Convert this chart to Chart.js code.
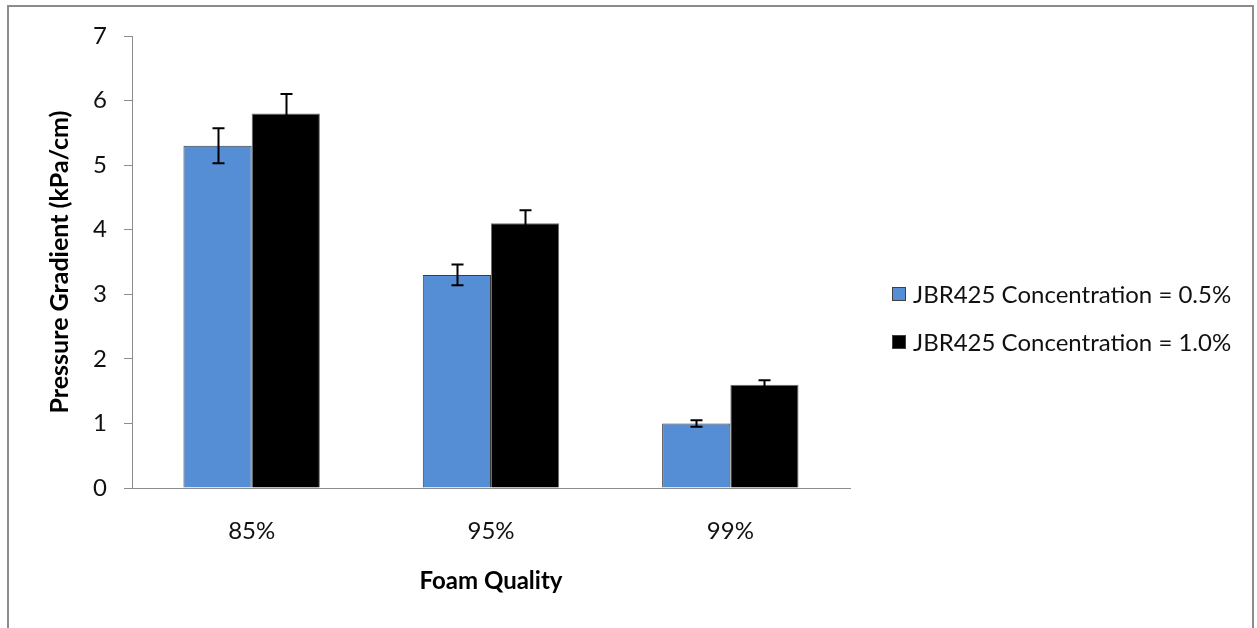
<!DOCTYPE html>
<html>
<head>
<meta charset="utf-8">
<script src="https://cdn.jsdelivr.net/npm/chart.js@4/dist/chart.umd.min.js"></script>
<style>
  html, body { margin: 0; padding: 0; background: #fff; }
  #wrap { position: relative; width: 1257px; height: 628px; overflow: hidden; }
  #frame { position: absolute; left: 7px; top: 5px; width: 1247px; height: 640px; border: 2px solid #8c8c8c; box-sizing: border-box; pointer-events: none; }
  canvas { position: absolute; left: 0; top: 0; }
</style>
</head>
<body>
<div id="wrap">
  <canvas id="c" width="1257" height="628"></canvas>
  <div id="frame"></div>
</div>
<script>
const categories = ['85%', '95%', '99%'];
const seriesLabels = ['JBR425 Concentration = 0.5%', 'JBR425 Concentration = 1.0%'];
const values05 = [5.30, 3.30, 1.00];
const values10 = [5.80, 4.10, 1.60];
const errors05 = [0.27, 0.16, 0.05];
const errors10 = [0.30, 0.20, 0.07];
const yTicks = [0, 1, 2, 3, 4, 5, 6, 7];

const FONT = 'Lato, "Open Sans", sans-serif';

const errorBarPlugin = {
  id: 'errorBars',
  afterDatasetsDraw(chart) {
    const ctx = chart.ctx;
    const yScale = chart.scales.y;
    chart.data.datasets.forEach((ds, di) => {
      const meta = chart.getDatasetMeta(di);
      meta.data.forEach((bar, i) => {
        const v = ds.data[i], e = ds.errors[i];
        const yt = yScale.getPixelForValue(v + e);
        const yb = yScale.getPixelForValue(v - e);
        const x = Math.round(bar.x) + 0.5;
        ctx.save();
        ctx.strokeStyle = '#000';
        ctx.lineWidth = 2;
        ctx.beginPath();
        ctx.moveTo(x, yt); ctx.lineTo(x, yb);
        ctx.moveTo(x - 6, yt); ctx.lineTo(x + 6, yt);
        ctx.moveTo(x - 6, yb); ctx.lineTo(x + 6, yb);
        ctx.stroke();
        ctx.restore();
      });
    });
  }
};

const legendPlugin = {
  id: 'sideLegend',
  afterDraw(chart) {
    const ctx = chart.ctx;
    const area = chart.chartArea;
    const x0 = area.right + 42;
    const cy = area.bottom - 170;
    const gap = 48;
    const n = chart.data.datasets.length;
    ctx.save();
    ctx.font = '24px ' + FONT;
    ctx.textBaseline = 'middle';
    chart.data.datasets.forEach((ds, i) => {
      const y = cy + (i - (n - 1) / 2) * gap;
      ctx.fillStyle = ds.backgroundColor;
      ctx.fillRect(x0, y - 7, 14, 14);
      ctx.strokeStyle = '#404040';
      ctx.lineWidth = 1;
      ctx.strokeRect(x0 + 0.5, y - 6.5, 13, 13);
      ctx.fillStyle = '#111';
      ctx.fillText(ds.label, x0 + 21, y + 1);
    });
    ctx.restore();
  }
};

new Chart(document.getElementById('c'), {
  type: 'bar',
  data: {
    labels: categories,
    datasets: [
      { label: seriesLabels[0], data: values05, errors: errors05, backgroundColor: '#558ed5', borderColor: '#3c3c3c', borderWidth: 1 },
      { label: seriesLabels[1], data: values10, errors: errors10, backgroundColor: '#000000', borderColor: '#6e6e6e', borderWidth: 1 }
    ]
  },
  options: {
    responsive: false,
    animation: false,
    devicePixelRatio: 1,
    layout: { padding: { left: 0, top: 36, right: 407, bottom: 0 } },
    plugins: { legend: { display: false }, tooltip: { enabled: false } },
    datasets: { bar: { categoryPercentage: 0.57, barPercentage: 1.0 } },
    scales: {
      x: {
        afterFit(s) { s.height = 140; },
        grid: { display: false, drawTicks: false },
        border: { display: true, color: '#8c8c8c', width: 1 },
        ticks: { padding: 29, color: '#111', font: { family: FONT, size: 24 } },
        title: { display: true, text: 'Foam Quality', color: '#000', font: { family: FONT, size: 24, weight: 'bold' }, padding: { top: 0, bottom: 32 } }
      },
      y: {
        min: 0, max: 7,
        afterFit(s) { s.width = 132; },
        afterBuildTicks(s) { s.ticks = yTicks.map(v => ({ value: v })); },
        grid: { drawOnChartArea: false, drawTicks: true, tickLength: 8, color: '#8c8c8c' },
        border: { display: true, color: '#8c8c8c', width: 1 },
        ticks: { padding: 17, color: '#111', font: { family: FONT, size: 24 } },
        title: { display: true, text: 'Pressure Gradient (kPa/cm)', color: '#000', font: { family: FONT, size: 25, weight: 'bold' }, padding: { top: 45, bottom: 0 } }
      }
    }
  },
  plugins: [errorBarPlugin, legendPlugin]
});
</script>
</body>
</html>
